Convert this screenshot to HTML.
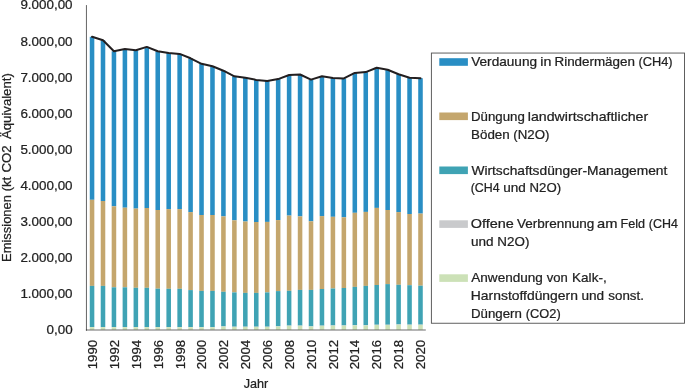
<!DOCTYPE html>
<html lang="de">
<head>
<meta charset="utf-8">
<title>Emissionen Landwirtschaft</title>
<style>
html,body{margin:0;padding:0;background:#fff;}
body{width:685px;height:388px;overflow:hidden;}
svg{display:block;}
text{font-family:"Liberation Sans",sans-serif;font-size:13.2px;fill:#222222;stroke:#222222;stroke-width:0.24px;}
</style>
</head>
<body>
<svg width="685" height="388" viewBox="0 0 685 388">
<rect x="0" y="0" width="685" height="388" fill="#ffffff"/>

<g shape-rendering="auto">
<rect x="89.77" y="36.8" width="4.55" height="163" fill="#298ec4"/>
<rect x="89.77" y="199.8" width="4.55" height="86.1" fill="#c4a66d"/>
<rect x="89.77" y="285.9" width="4.55" height="41.1" fill="#3fa3b4"/>
<rect x="89.77" y="327" width="4.55" height="0.2" fill="#c9cacc"/>
<rect x="89.77" y="327.2" width="4.55" height="2.5" fill="#cce1b7"/>
<rect x="100.72" y="40.3" width="4.55" height="160.7" fill="#298ec4"/>
<rect x="100.72" y="201" width="4.55" height="84.9" fill="#c4a66d"/>
<rect x="100.72" y="285.9" width="4.55" height="41.1" fill="#3fa3b4"/>
<rect x="100.72" y="327" width="4.55" height="0.2" fill="#c9cacc"/>
<rect x="100.72" y="327.2" width="4.55" height="2.5" fill="#cce1b7"/>
<rect x="111.67" y="51.3" width="4.55" height="155" fill="#298ec4"/>
<rect x="111.67" y="206.3" width="4.55" height="81" fill="#c4a66d"/>
<rect x="111.67" y="287.3" width="4.55" height="39.7" fill="#3fa3b4"/>
<rect x="111.67" y="327" width="4.55" height="0.2" fill="#c9cacc"/>
<rect x="111.67" y="327.2" width="4.55" height="2.5" fill="#cce1b7"/>
<rect x="122.62" y="49" width="4.55" height="158.7" fill="#298ec4"/>
<rect x="122.62" y="207.7" width="4.55" height="79.6" fill="#c4a66d"/>
<rect x="122.62" y="287.3" width="4.55" height="39.7" fill="#3fa3b4"/>
<rect x="122.62" y="327" width="4.55" height="0.2" fill="#c9cacc"/>
<rect x="122.62" y="327.2" width="4.55" height="2.5" fill="#cce1b7"/>
<rect x="133.57" y="50.2" width="4.55" height="158.4" fill="#298ec4"/>
<rect x="133.57" y="208.6" width="4.55" height="79.2" fill="#c4a66d"/>
<rect x="133.57" y="287.8" width="4.55" height="39.2" fill="#3fa3b4"/>
<rect x="133.57" y="327" width="4.55" height="0.2" fill="#c9cacc"/>
<rect x="133.57" y="327.2" width="4.55" height="2.5" fill="#cce1b7"/>
<rect x="144.51" y="46.9" width="4.55" height="161.1" fill="#298ec4"/>
<rect x="144.51" y="208" width="4.55" height="79.8" fill="#c4a66d"/>
<rect x="144.51" y="287.8" width="4.55" height="39.2" fill="#3fa3b4"/>
<rect x="144.51" y="327" width="4.55" height="0.2" fill="#c9cacc"/>
<rect x="144.51" y="327.2" width="4.55" height="2.5" fill="#cce1b7"/>
<rect x="155.46" y="51.3" width="4.55" height="158.7" fill="#298ec4"/>
<rect x="155.46" y="210" width="4.55" height="78.7" fill="#c4a66d"/>
<rect x="155.46" y="288.7" width="4.55" height="38.3" fill="#3fa3b4"/>
<rect x="155.46" y="327" width="4.55" height="0.2" fill="#c9cacc"/>
<rect x="155.46" y="327.2" width="4.55" height="2.5" fill="#cce1b7"/>
<rect x="166.41" y="53" width="4.55" height="156.1" fill="#298ec4"/>
<rect x="166.41" y="209.1" width="4.55" height="79.7" fill="#c4a66d"/>
<rect x="166.41" y="288.8" width="4.55" height="38.2" fill="#3fa3b4"/>
<rect x="166.41" y="327" width="4.55" height="0.2" fill="#c9cacc"/>
<rect x="166.41" y="327.2" width="4.55" height="2.5" fill="#cce1b7"/>
<rect x="177.36" y="53.9" width="4.55" height="155.2" fill="#298ec4"/>
<rect x="177.36" y="209.1" width="4.55" height="79.7" fill="#c4a66d"/>
<rect x="177.36" y="288.8" width="4.55" height="38.2" fill="#3fa3b4"/>
<rect x="177.36" y="327" width="4.55" height="0.2" fill="#c9cacc"/>
<rect x="177.36" y="327.2" width="4.55" height="2.5" fill="#cce1b7"/>
<rect x="188.31" y="58.3" width="4.55" height="153.8" fill="#298ec4"/>
<rect x="188.31" y="212.1" width="4.55" height="78" fill="#c4a66d"/>
<rect x="188.31" y="290.1" width="4.55" height="36.9" fill="#3fa3b4"/>
<rect x="188.31" y="327" width="4.55" height="0.2" fill="#c9cacc"/>
<rect x="188.31" y="327.2" width="4.55" height="2.5" fill="#cce1b7"/>
<rect x="199.25" y="63.8" width="4.55" height="151.2" fill="#298ec4"/>
<rect x="199.25" y="215" width="4.55" height="75.9" fill="#c4a66d"/>
<rect x="199.25" y="290.9" width="4.55" height="36.2" fill="#3fa3b4"/>
<rect x="199.25" y="327.1" width="4.55" height="0.2" fill="#c9cacc"/>
<rect x="199.25" y="327.3" width="4.55" height="2.4" fill="#cce1b7"/>
<rect x="210.2" y="66.3" width="4.55" height="148.7" fill="#298ec4"/>
<rect x="210.2" y="215" width="4.55" height="75.9" fill="#c4a66d"/>
<rect x="210.2" y="290.9" width="4.55" height="36.2" fill="#3fa3b4"/>
<rect x="210.2" y="327.1" width="4.55" height="0.2" fill="#c9cacc"/>
<rect x="210.2" y="327.3" width="4.55" height="2.4" fill="#cce1b7"/>
<rect x="221.15" y="70.7" width="4.55" height="145.7" fill="#298ec4"/>
<rect x="221.15" y="216.4" width="4.55" height="75.4" fill="#c4a66d"/>
<rect x="221.15" y="291.8" width="4.55" height="34.6" fill="#3fa3b4"/>
<rect x="221.15" y="326.4" width="4.55" height="0.2" fill="#c9cacc"/>
<rect x="221.15" y="326.6" width="4.55" height="3.1" fill="#cce1b7"/>
<rect x="232.1" y="76.3" width="4.55" height="144" fill="#298ec4"/>
<rect x="232.1" y="220.3" width="4.55" height="72.1" fill="#c4a66d"/>
<rect x="232.1" y="292.4" width="4.55" height="34.3" fill="#3fa3b4"/>
<rect x="232.1" y="326.7" width="4.55" height="0.2" fill="#c9cacc"/>
<rect x="232.1" y="326.9" width="4.55" height="2.8" fill="#cce1b7"/>
<rect x="243.05" y="77.7" width="4.55" height="143.8" fill="#298ec4"/>
<rect x="243.05" y="221.5" width="4.55" height="71.4" fill="#c4a66d"/>
<rect x="243.05" y="292.9" width="4.55" height="33.8" fill="#3fa3b4"/>
<rect x="243.05" y="326.7" width="4.55" height="0.2" fill="#c9cacc"/>
<rect x="243.05" y="326.9" width="4.55" height="2.8" fill="#cce1b7"/>
<rect x="253.99" y="79.9" width="4.55" height="142.1" fill="#298ec4"/>
<rect x="253.99" y="222" width="4.55" height="70.9" fill="#c4a66d"/>
<rect x="253.99" y="292.9" width="4.55" height="33.8" fill="#3fa3b4"/>
<rect x="253.99" y="326.7" width="4.55" height="0.2" fill="#c9cacc"/>
<rect x="253.99" y="326.9" width="4.55" height="2.8" fill="#cce1b7"/>
<rect x="264.94" y="81" width="4.55" height="140.9" fill="#298ec4"/>
<rect x="264.94" y="221.9" width="4.55" height="70.5" fill="#c4a66d"/>
<rect x="264.94" y="292.4" width="4.55" height="34.3" fill="#3fa3b4"/>
<rect x="264.94" y="326.7" width="4.55" height="0.2" fill="#c9cacc"/>
<rect x="264.94" y="326.9" width="4.55" height="2.8" fill="#cce1b7"/>
<rect x="275.89" y="79.1" width="4.55" height="141" fill="#298ec4"/>
<rect x="275.89" y="220.1" width="4.55" height="71" fill="#c4a66d"/>
<rect x="275.89" y="291.1" width="4.55" height="35.2" fill="#3fa3b4"/>
<rect x="275.89" y="326.3" width="4.55" height="0.2" fill="#c9cacc"/>
<rect x="275.89" y="326.5" width="4.55" height="3.2" fill="#cce1b7"/>
<rect x="286.84" y="75" width="4.55" height="140.6" fill="#298ec4"/>
<rect x="286.84" y="215.6" width="4.55" height="75.2" fill="#c4a66d"/>
<rect x="286.84" y="290.8" width="4.55" height="34.8" fill="#3fa3b4"/>
<rect x="286.84" y="325.6" width="4.55" height="0.2" fill="#c9cacc"/>
<rect x="286.84" y="325.8" width="4.55" height="3.9" fill="#cce1b7"/>
<rect x="297.79" y="74.5" width="4.55" height="141.9" fill="#298ec4"/>
<rect x="297.79" y="216.4" width="4.55" height="73.5" fill="#c4a66d"/>
<rect x="297.79" y="289.9" width="4.55" height="35.7" fill="#3fa3b4"/>
<rect x="297.79" y="325.6" width="4.55" height="0.2" fill="#c9cacc"/>
<rect x="297.79" y="325.8" width="4.55" height="3.9" fill="#cce1b7"/>
<rect x="308.74" y="79.6" width="4.55" height="141.7" fill="#298ec4"/>
<rect x="308.74" y="221.3" width="4.55" height="68.6" fill="#c4a66d"/>
<rect x="308.74" y="289.9" width="4.55" height="36.45" fill="#3fa3b4"/>
<rect x="308.74" y="326.35" width="4.55" height="0.2" fill="#c9cacc"/>
<rect x="308.74" y="326.55" width="4.55" height="3.15" fill="#cce1b7"/>
<rect x="319.68" y="76.3" width="4.55" height="139.8" fill="#298ec4"/>
<rect x="319.68" y="216.1" width="4.55" height="72.9" fill="#c4a66d"/>
<rect x="319.68" y="289" width="4.55" height="36.65" fill="#3fa3b4"/>
<rect x="319.68" y="325.65" width="4.55" height="0.2" fill="#c9cacc"/>
<rect x="319.68" y="325.85" width="4.55" height="3.85" fill="#cce1b7"/>
<rect x="330.63" y="78" width="4.55" height="138.8" fill="#298ec4"/>
<rect x="330.63" y="216.8" width="4.55" height="71.7" fill="#c4a66d"/>
<rect x="330.63" y="288.5" width="4.55" height="36.95" fill="#3fa3b4"/>
<rect x="330.63" y="325.45" width="4.55" height="0.2" fill="#c9cacc"/>
<rect x="330.63" y="325.65" width="4.55" height="4.05" fill="#cce1b7"/>
<rect x="341.58" y="78.4" width="4.55" height="138.9" fill="#298ec4"/>
<rect x="341.58" y="217.3" width="4.55" height="70.7" fill="#c4a66d"/>
<rect x="341.58" y="288" width="4.55" height="37.45" fill="#3fa3b4"/>
<rect x="341.58" y="325.45" width="4.55" height="0.2" fill="#c9cacc"/>
<rect x="341.58" y="325.65" width="4.55" height="4.05" fill="#cce1b7"/>
<rect x="352.53" y="72.9" width="4.55" height="139.9" fill="#298ec4"/>
<rect x="352.53" y="212.8" width="4.55" height="74.1" fill="#c4a66d"/>
<rect x="352.53" y="286.9" width="4.55" height="38.35" fill="#3fa3b4"/>
<rect x="352.53" y="325.25" width="4.55" height="0.2" fill="#c9cacc"/>
<rect x="352.53" y="325.45" width="4.55" height="4.25" fill="#cce1b7"/>
<rect x="363.48" y="72.1" width="4.55" height="139.8" fill="#298ec4"/>
<rect x="363.48" y="211.9" width="4.55" height="74" fill="#c4a66d"/>
<rect x="363.48" y="285.9" width="4.55" height="39.35" fill="#3fa3b4"/>
<rect x="363.48" y="325.25" width="4.55" height="0.2" fill="#c9cacc"/>
<rect x="363.48" y="325.45" width="4.55" height="4.25" fill="#cce1b7"/>
<rect x="374.42" y="67.7" width="4.55" height="140.2" fill="#298ec4"/>
<rect x="374.42" y="207.9" width="4.55" height="77.1" fill="#c4a66d"/>
<rect x="374.42" y="285" width="4.55" height="39.75" fill="#3fa3b4"/>
<rect x="374.42" y="324.75" width="4.55" height="0.2" fill="#c9cacc"/>
<rect x="374.42" y="324.95" width="4.55" height="4.75" fill="#cce1b7"/>
<rect x="385.37" y="69.8" width="4.55" height="140.2" fill="#298ec4"/>
<rect x="385.37" y="210" width="4.55" height="74.1" fill="#c4a66d"/>
<rect x="385.37" y="284.1" width="4.55" height="40.65" fill="#3fa3b4"/>
<rect x="385.37" y="324.75" width="4.55" height="0.2" fill="#c9cacc"/>
<rect x="385.37" y="324.95" width="4.55" height="4.75" fill="#cce1b7"/>
<rect x="396.32" y="74.2" width="4.55" height="137.9" fill="#298ec4"/>
<rect x="396.32" y="212.1" width="4.55" height="72.7" fill="#c4a66d"/>
<rect x="396.32" y="284.8" width="4.55" height="39.65" fill="#3fa3b4"/>
<rect x="396.32" y="324.45" width="4.55" height="0.2" fill="#c9cacc"/>
<rect x="396.32" y="324.65" width="4.55" height="5.05" fill="#cce1b7"/>
<rect x="407.27" y="77.7" width="4.55" height="136.3" fill="#298ec4"/>
<rect x="407.27" y="214" width="4.55" height="71.2" fill="#c4a66d"/>
<rect x="407.27" y="285.2" width="4.55" height="39.45" fill="#3fa3b4"/>
<rect x="407.27" y="324.65" width="4.55" height="0.2" fill="#c9cacc"/>
<rect x="407.27" y="324.85" width="4.55" height="4.85" fill="#cce1b7"/>
<rect x="418.22" y="78.2" width="4.55" height="135.4" fill="#298ec4"/>
<rect x="418.22" y="213.6" width="4.55" height="72.1" fill="#c4a66d"/>
<rect x="418.22" y="285.7" width="4.55" height="38.95" fill="#3fa3b4"/>
<rect x="418.22" y="324.65" width="4.55" height="0.2" fill="#c9cacc"/>
<rect x="418.22" y="324.85" width="4.55" height="4.85" fill="#cce1b7"/>
</g>
<line x1="86.45" y1="5.1" x2="86.45" y2="330.7" stroke="#5e5e5e" stroke-width="0.95"/>
<line x1="85.9" y1="329.95" x2="425.8" y2="329.95" stroke="#000000" stroke-opacity="0.39" stroke-width="1.6"/>
<polyline points="92.05,36.8 103,40.3 113.95,51.3 124.89,49 135.84,50.2 146.79,46.9 157.74,51.3 168.69,53 179.63,53.9 190.58,58.3 201.53,63.8 212.48,66.3 223.43,70.7 234.37,76.3 245.32,77.7 256.27,79.9 267.22,81 278.17,79.1 289.11,75 300.06,74.5 311.01,79.6 321.96,76.3 332.91,78 343.85,78.4 354.8,72.9 365.75,72.1 376.7,67.7 387.65,69.8 398.59,74.2 409.54,77.7 420.49,78.2" fill="none" stroke="#231f20" stroke-width="2" stroke-linejoin="round" stroke-linecap="round"/>
<text x="72.6" y="334" text-anchor="end" textLength="26.1" lengthAdjust="spacingAndGlyphs">0,00</text>
<text x="72.6" y="297.94" text-anchor="end" textLength="52.2" lengthAdjust="spacingAndGlyphs">1.000,00</text>
<text x="72.6" y="261.88" text-anchor="end" textLength="52.2" lengthAdjust="spacingAndGlyphs">2.000,00</text>
<text x="72.6" y="225.82" text-anchor="end" textLength="52.2" lengthAdjust="spacingAndGlyphs">3.000,00</text>
<text x="72.6" y="189.76" text-anchor="end" textLength="52.2" lengthAdjust="spacingAndGlyphs">4.000,00</text>
<text x="72.6" y="153.7" text-anchor="end" textLength="52.2" lengthAdjust="spacingAndGlyphs">5.000,00</text>
<text x="72.6" y="117.64" text-anchor="end" textLength="52.2" lengthAdjust="spacingAndGlyphs">6.000,00</text>
<text x="72.6" y="81.58" text-anchor="end" textLength="52.2" lengthAdjust="spacingAndGlyphs">7.000,00</text>
<text x="72.6" y="45.52" text-anchor="end" textLength="52.2" lengthAdjust="spacingAndGlyphs">8.000,00</text>
<text x="72.6" y="9.46" text-anchor="end" textLength="52.2" lengthAdjust="spacingAndGlyphs">9.000,00</text>
<text transform="translate(11.3,0) rotate(-90)" y="0"><tspan x="-261.98" textLength="66.91" lengthAdjust="spacingAndGlyphs">Emissionen</tspan> <tspan x="-191.29" textLength="14.46" lengthAdjust="spacingAndGlyphs">(kt</tspan> <tspan x="-172.5" textLength="27.25" lengthAdjust="spacingAndGlyphs">CO2</tspan> <tspan x="-139" textLength="65.79" lengthAdjust="spacingAndGlyphs">Äquivalent)</tspan></text>
<text transform="translate(97.1,339.9) rotate(-90)" text-anchor="end">1990</text>
<text transform="translate(118.97,339.9) rotate(-90)" text-anchor="end">1992</text>
<text transform="translate(140.83,339.9) rotate(-90)" text-anchor="end">1994</text>
<text transform="translate(162.7,339.9) rotate(-90)" text-anchor="end">1996</text>
<text transform="translate(184.56,339.9) rotate(-90)" text-anchor="end">1998</text>
<text transform="translate(206.43,339.9) rotate(-90)" text-anchor="end">2000</text>
<text transform="translate(228.3,339.9) rotate(-90)" text-anchor="end">2002</text>
<text transform="translate(250.16,339.9) rotate(-90)" text-anchor="end">2004</text>
<text transform="translate(272.03,339.9) rotate(-90)" text-anchor="end">2006</text>
<text transform="translate(293.89,339.9) rotate(-90)" text-anchor="end">2008</text>
<text transform="translate(315.76,339.9) rotate(-90)" text-anchor="end">2010</text>
<text transform="translate(337.63,339.9) rotate(-90)" text-anchor="end">2012</text>
<text transform="translate(359.49,339.9) rotate(-90)" text-anchor="end">2014</text>
<text transform="translate(381.36,339.9) rotate(-90)" text-anchor="end">2016</text>
<text transform="translate(403.22,339.9) rotate(-90)" text-anchor="end">2018</text>
<text transform="translate(425.09,339.9) rotate(-90)" text-anchor="end">2020</text>
<text x="256" y="387.7" text-anchor="middle" textLength="24.6" lengthAdjust="spacingAndGlyphs">Jahr</text>
<rect x="431.4" y="53.05" width="253.1" height="270.2" fill="#ffffff" stroke="#575757" stroke-width="0.95"/>
<rect x="439.3" y="58.2" width="28.6" height="7.6" fill="#298ec4"/>
<rect x="439.3" y="112.5" width="28.6" height="7.6" fill="#c4a66d"/>
<rect x="439.3" y="166.5" width="28.6" height="7.6" fill="#3fa3b4"/>
<rect x="439.3" y="220.3" width="28.6" height="7.6" fill="#c9cacc"/>
<rect x="439.3" y="274.3" width="28.6" height="7.6" fill="#cce1b7"/>
<text y="66.05"><tspan x="471.2" textLength="65.92" lengthAdjust="spacingAndGlyphs">Verdauung</tspan> <tspan x="540.24" textLength="11.07" lengthAdjust="spacingAndGlyphs">in</tspan> <tspan x="554.48" textLength="80.47" lengthAdjust="spacingAndGlyphs">Rindermägen</tspan> <tspan x="638.42" textLength="34.15" lengthAdjust="spacingAndGlyphs">(CH4)</tspan></text>
<text y="120.85"><tspan x="471" textLength="53.75" lengthAdjust="spacingAndGlyphs">Düngung</tspan> <tspan x="527.84" textLength="120.37" lengthAdjust="spacingAndGlyphs">landwirtschaftlicher</tspan></text>
<text y="138.55"><tspan x="471.09" textLength="38.67" lengthAdjust="spacingAndGlyphs">Böden</tspan> <tspan x="513.3" textLength="36.1" lengthAdjust="spacingAndGlyphs">(N2O)</tspan></text>
<text y="174.55"><tspan x="471.4" textLength="195.97" lengthAdjust="spacingAndGlyphs">Wirtschaftsdünger-Management</tspan></text>
<text y="192.25"><tspan x="470.75" textLength="28.87" lengthAdjust="spacingAndGlyphs">(CH4</tspan> <tspan x="503.28" textLength="22.58" lengthAdjust="spacingAndGlyphs">und</tspan> <tspan x="529.6" textLength="31.49" lengthAdjust="spacingAndGlyphs">N2O)</tspan></text>
<text y="228.05"><tspan x="470.74" textLength="43.05" lengthAdjust="spacingAndGlyphs">Offene</tspan> <tspan x="517" textLength="77.36" lengthAdjust="spacingAndGlyphs">Verbrennung</tspan> <tspan x="597.04" textLength="20.44" lengthAdjust="spacingAndGlyphs">am</tspan> <tspan x="620.44" textLength="24.56" lengthAdjust="spacingAndGlyphs">Feld</tspan> <tspan x="648.84" textLength="29.08" lengthAdjust="spacingAndGlyphs">(CH4</tspan></text>
<text y="245.75"><tspan x="471.08" textLength="22.58" lengthAdjust="spacingAndGlyphs">und</tspan> <tspan x="497.38" textLength="32.02" lengthAdjust="spacingAndGlyphs">N2O)</tspan></text>
<text y="282.15"><tspan x="471.3" textLength="71.56" lengthAdjust="spacingAndGlyphs">Anwendung</tspan> <tspan x="546.8" textLength="21.03" lengthAdjust="spacingAndGlyphs">von</tspan> <tspan x="572.07" textLength="34.62" lengthAdjust="spacingAndGlyphs">Kalk-,</tspan></text>
<text y="300.15"><tspan x="470.85" textLength="107.04" lengthAdjust="spacingAndGlyphs">Harnstoffdüngern</tspan> <tspan x="581.48" textLength="22.69" lengthAdjust="spacingAndGlyphs">und</tspan> <tspan x="608.3" textLength="35.58" lengthAdjust="spacingAndGlyphs">sonst.</tspan></text>
<text y="318.15"><tspan x="471" textLength="50.85" lengthAdjust="spacingAndGlyphs">Düngern</tspan> <tspan x="525.82" textLength="34.85" lengthAdjust="spacingAndGlyphs">(CO2)</tspan></text>
</svg>
</body>
</html>
